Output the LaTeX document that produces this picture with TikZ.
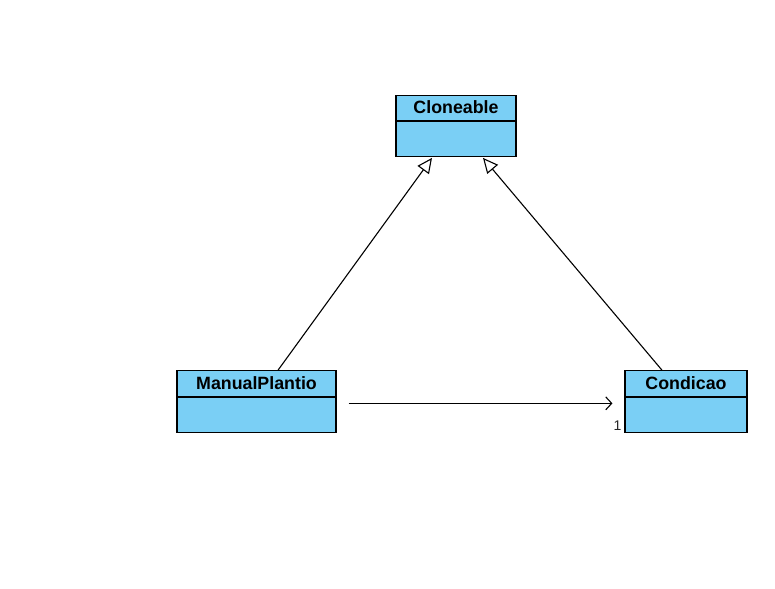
\documentclass[tikz,border=0pt]{standalone}
\usepackage{fontspec}
\setmainfont{Liberation Sans}
\usetikzlibrary{positioning,arrows.meta}

\definecolor{bleu}{RGB}{122,207,245}

\begin{document}
\begin{tikzpicture}[x=1pt,y=-1pt,
    classe/.style={draw, line width=1.1pt, fill=bleu, minimum height=25.5pt, inner sep=0pt,
        font=\fontsize{17.8}{19}\selectfont\bfseries},
    corps/.style={draw, line width=1.1pt, fill=bleu, minimum height=35pt, inner sep=0pt},
    herite/.style={draw, line width=1.1pt, -{Triangle[open, length=15pt, width=14pt, fill=white]}},
    assoc/.style={draw, line width=1.1pt, -{Straight Barb[length=6pt, width=13pt]}}]
    % cadre de la figure
    \useasboundingbox (0,0) rectangle (775,588);

    % Les trois classes
    \node[classe, minimum width=120pt] (cloneable) at (456,108) {\raisebox{1.5pt}{Cloneable}};
    \node[corps, minimum width=120pt, below=0pt of cloneable] (cloneableC) {};

    \node[classe, minimum width=159pt] (manuel) at (256.5,383.5) {\raisebox{1.5pt}{ManualPlantio}};
    \node[corps, minimum width=159pt, below=0pt of manuel] (manuelC) {};

    \node[classe, minimum width=122pt] (condicao) at (686,383.5) {\raisebox{1.5pt}{Condicao}};
    \node[corps, minimum width=122pt, below=0pt of condicao] (condicaoC) {};

    % Héritage vers Cloneable
    \draw[herite] ([xshift=21.5pt]manuel.north) -- ([xshift=-24pt,yshift=-0.5pt]cloneableC.south);
    \draw[herite] ([xshift=-24pt]condicao.north) -- ([xshift=27pt,yshift=-0.5pt]cloneableC.south);

    % Association avec multiplicité
    \draw[assoc] ([xshift=12pt,yshift=11.5pt]manuelC.east) -- ([xshift=-12pt,yshift=11.5pt]condicaoC.west);
    \node[font=\fontsize{14}{16}\selectfont, text=black!85] (mult) at ([xshift=-7pt,yshift=-11pt]condicaoC.west) {1};
\end{tikzpicture}
\end{document}
